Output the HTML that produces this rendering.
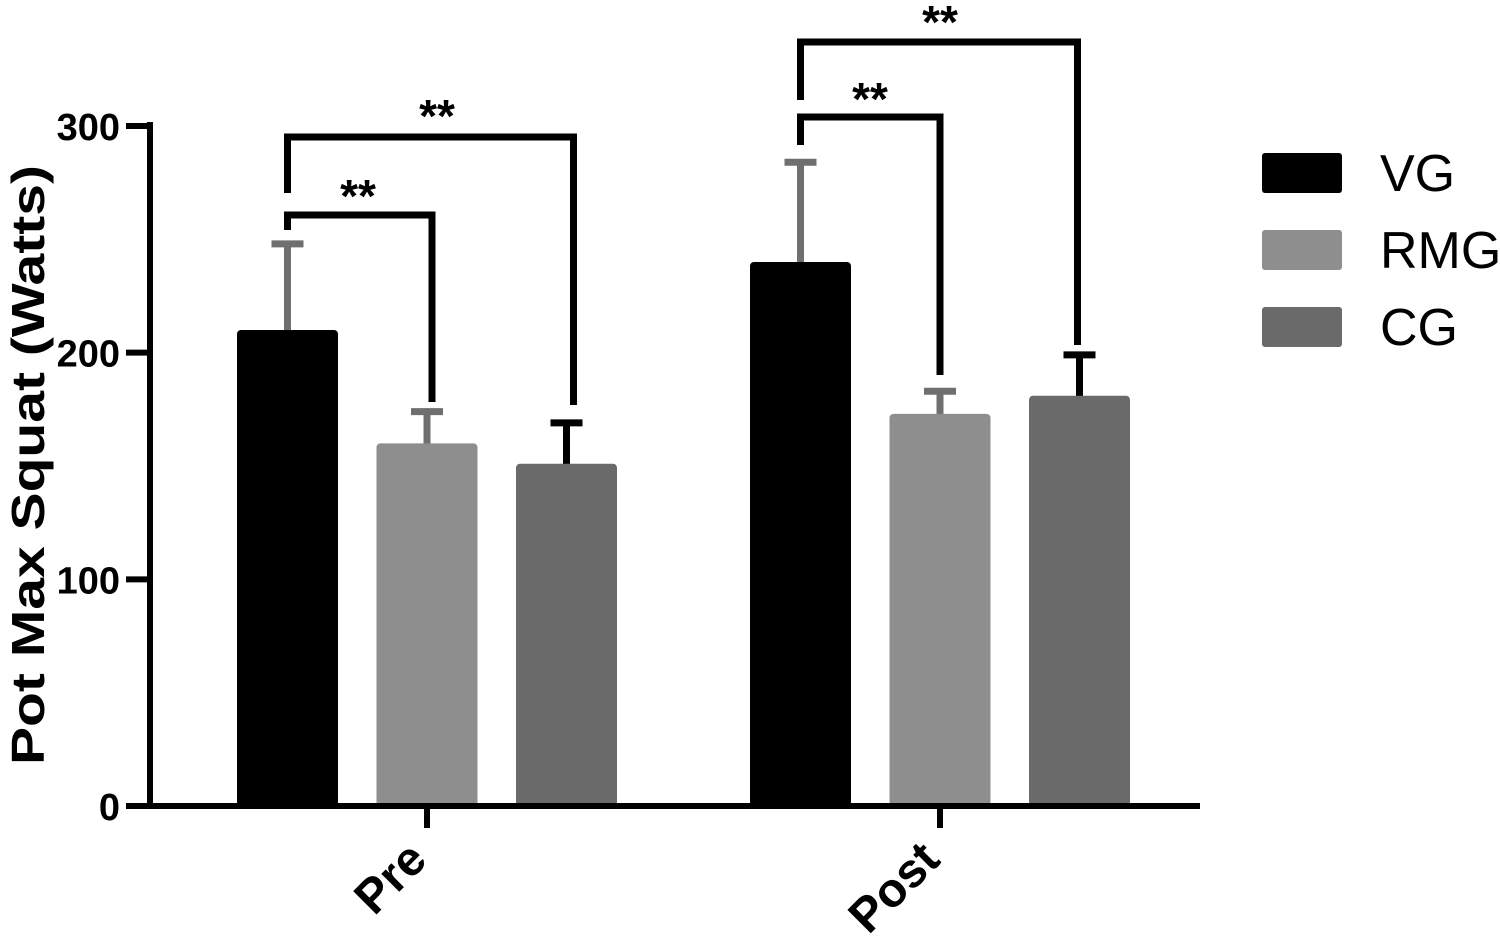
<!DOCTYPE html>
<html><head><meta charset="utf-8"><style>
html,body{margin:0;padding:0;background:#fff;width:1500px;height:940px;overflow:hidden}
svg text{font-family:"Liberation Sans",Arial,sans-serif}
</style></head><body>
<svg id="chart" width="1500" height="940" xmlns="http://www.w3.org/2000/svg"></svg>
<script>
const categories = ["Pre","Post"];
const seriesNames = ["VG","RMG","CG"];
const vgMeans = [210, 240];
const rmgMeans = [160, 173];
const cgMeans = [151, 181];
const vgErr = [38, 44];
const rmgErr = [14, 10];
const cgErr = [18, 18];
const yTicks = [0,100,200,300];
const seriesColors = ["#000000","#8e8e8e","#6a6a6a"];
const errColors = ["#6f6f6f","#6f6f6f","#000000"];

const svg = document.getElementById('chart');
const NS = "http://www.w3.org/2000/svg";
function el(tag, attrs, parent){const e=document.createElementNS(NS,tag);for(const k in attrs)e.setAttribute(k,attrs[k]);(parent||svg).appendChild(e);return e;}
const y0=806, yPer=(806-126)/300;
function yScale(v){return y0 - v*yPer;}
const groupStart=[237,750], barW=101, barStep=139.5;
function xBar(ci,si){return groupStart[ci]+si*barStep;}
function xCenter(ci,si){return xBar(ci,si)+barW/2;}

const means=[vgMeans,rmgMeans,cgMeans], errs=[vgErr,rmgErr,cgErr];
for(let ci=0;ci<categories.length;ci++){
  for(let si=0;si<3;si++){
    const top=yScale(means[si][ci]), eTop=yScale(means[si][ci]+errs[si][ci]);
    const cx=xCenter(ci,si);
    const eg=el('g',{});
    
    
    el('line',{x1:cx,x2:cx,y1:top+2,y2:eTop,stroke:errColors[si],'stroke-width':7},eg);
    el('line',{x1:cx-16,x2:cx+16,y1:eTop,y2:eTop,stroke:errColors[si],'stroke-width':7},eg);
    const r=el('rect',{x:xBar(ci,si),y:top,width:barW,height:y0-top,fill:seriesColors[si],rx:4});
    
    
  }
}
const ax=el('g',{});


el('line',{x1:150,x2:150,y1:122,y2:809,stroke:'#000','stroke-width':6},ax);
el('line',{x1:147,x2:1200,y1:806,y2:806,stroke:'#000','stroke-width':6},ax);
yTicks.forEach(t=>{
  const y=yScale(t);
  el('line',{x1:126,x2:150,y1:y,y2:y,stroke:'#000','stroke-width':6},ax);
  const tx=el('text',{x:120,y:y+14,'text-anchor':'end','font-size':38,'font-weight':'bold'},ax);
  tx.textContent=t;
  
  
});
categories.forEach((c,ci)=>{
  const x=(xCenter(ci,0)+xCenter(ci,2))/2;
  el('line',{x1:x,x2:x,y1:806,y2:828,stroke:'#000','stroke-width':6},ax);
  const ax2=x+2, ay=862;
  const tx=el('text',{x:ax2,y:ay,'text-anchor':'end','font-size':48,'font-weight':'bold',transform:`rotate(-45 ${ax2} ${ay})`},ax);
  tx.textContent=c;
  
  
});
const yt=el('text',{x:0,y:0,'text-anchor':'middle','font-size':46,'font-weight':'bold',textLength:600,lengthAdjust:'spacingAndGlyphs',transform:'translate(44 465) rotate(-90)'});
yt.textContent='Pot Max Squat (Watts)';



function bracket(ci, toSi, rOff, topY, leftBottom, rightBottom, starX, starY, name){
  const g=el('g',{});
  
  
  const x1=xCenter(ci,0), x2=xCenter(ci,toSi)+rOff;
  el('polyline',{points:`${x1},${leftBottom} ${x1},${topY} ${x2},${topY} ${x2},${rightBottom}`,fill:'none',stroke:'#000','stroke-width':7},g);
  const t=el('text',{x:starX,y:starY,'text-anchor':'middle','font-size':46,'font-weight':'bold'},g);
  t.textContent='**';
}
bracket(0,1,5,215,230,402,358,212,'significance-pre-vg-rmg');
bracket(0,2,7,137,193,405,437,132,'significance-pre-vg-cg');
bracket(1,1,0,117,145,375,870,115,'significance-post-vg-rmg');
bracket(1,2,-2,42,100,345,940,38,'significance-post-vg-cg');

seriesNames.forEach((n,i)=>{
  const g=el('g',{});
  
  
  const y=153+i*77;
  el('rect',{x:1262,y:y,width:80,height:40,fill:seriesColors[i],rx:3},g);
  const t=el('text',{x:1380,y:y+38,'font-size':52},g);
  t.textContent=n;
});
</script>
</body></html>
